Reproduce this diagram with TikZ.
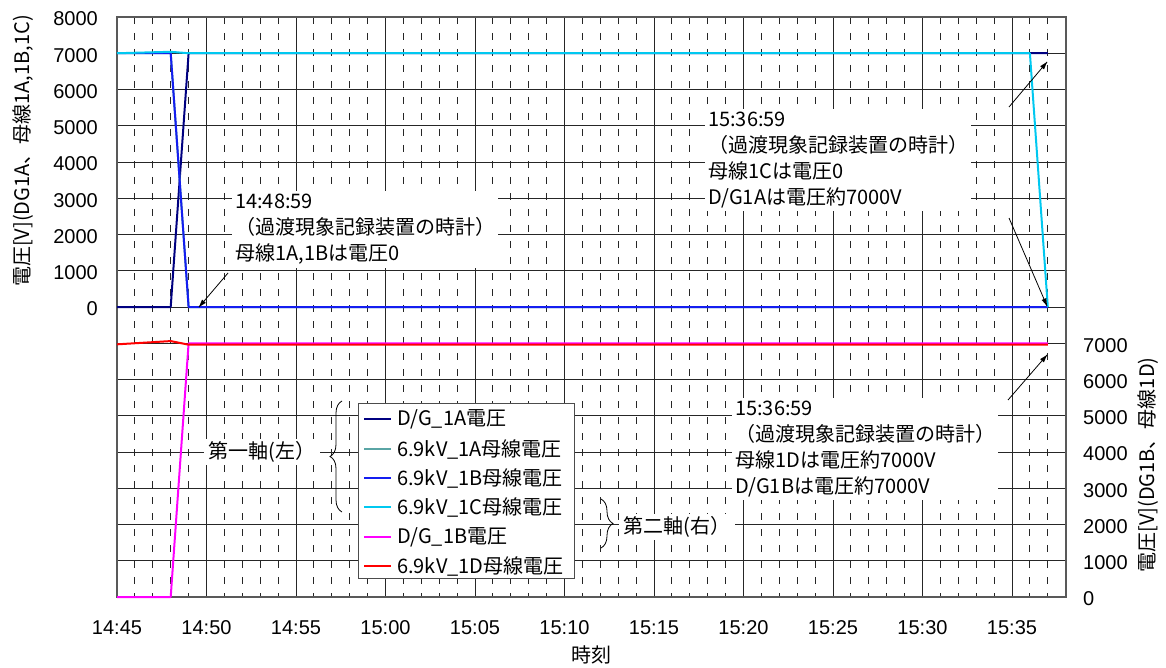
\documentclass[tikz,border=0pt]{standalone}
\usepackage{fontspec}
\setmainfont{Liberation Sans}
\newfontfamily\jp{Noto Sans CJK JP}
\usetikzlibrary{calc,decorations.pathreplacing}

\definecolor{dgA}{RGB}{0,0,128}
\definecolor{busA}{RGB}{90,165,165}
\definecolor{busB}{RGB}{20,30,240}
\definecolor{busC}{RGB}{0,200,240}
\definecolor{dgB}{RGB}{255,0,255}
\definecolor{busD}{RGB}{255,0,0}

\begin{document}
\begin{tikzpicture}[x=1pt,y=1pt]
	\tikzstyle{every node}+=[inner sep=0pt]
	\tikzstyle{gridline}=[black!85, line width=0.9pt]
	\tikzstyle{minorline}=[black!85, line width=0.9pt, dash pattern=on 7pt off 9pt]
	\tikzstyle{trace}=[line width=2pt, line join=round]
	\tikzstyle{pointer}=[black, line width=0.8pt]
	\tikzstyle{ticklabel}=[font=\fontsize{20}{24}\selectfont]
	\tikzstyle{jptext}=[font=\jp\fontsize{20}{26}\selectfont]
	\tikzstyle{notebox}=[jptext, fill=white, inner sep=3pt, align=left]
	\useasboundingbox (0,0) rectangle (1166,-668);

	% grid
	\foreach \k in {1,...,15}
		\draw [gridline] (117,{-17-36.25*\k}) -- (1066,{-17-36.25*\k});
	\foreach \t in {1,...,52} {
		\pgfmathtruncatemacro\r{mod(\t,5)}
		\ifnum\r=0
			\draw [gridline] ({117+17.9*\t},-17) -- ({117+17.9*\t},-597);
		\else
			\draw [minorline] ({117+17.9*\t},-17) -- ({117+17.9*\t},-597);
		\fi
	}
	\draw [gray!70!black, line width=1.6pt] (117,-17) rectangle (1066,-597);

	% first axis (left)
	\begin{scope}[shift={(117pt,-307pt)}, x=17.9pt, y=36.25pt]
		\draw [trace, dgA] (0,0) -- (3,0) -- (4,7) -- (52,7);
		\draw [trace, busA] (0,7) -- (3,7) -- (4,0) -- (52,0);
		\draw [trace, busB] (0,7) -- (3,7) -- (4,0) -- (52,0);
		\draw [trace, busC] (0,7) -- (3,7.04) -- (4,7) -- (51,7) -- (52,0);
	\end{scope}
	% second axis (right)
	\begin{scope}[shift={(117pt,-597pt)}, x=17.9pt, y=36.25pt]
		\draw [trace, dgB] (0,0) -- (3,0) -- (4,7) -- (52,7);
		\draw [trace, busD] (0,6.97) -- (3,7.06) -- (4,6.96) -- (52,6.96);
	\end{scope}

	% axis labels
	\foreach \v [count=\i from 0] in {0,1000,...,8000}
		\node [ticklabel, anchor=east] (yl\i) at (98,{-309+36.25*\i}) {\v};
	\foreach \v [count=\i from 0] in {0,1000,...,7000}
		\node [ticklabel, anchor=west] (yr\i) at (1083,{-599+36.25*\i}) {\v};
	\foreach \lab [count=\i from 0] in {14:45,14:50,14:55,15:00,15:05,15:10,15:15,15:20,15:25,15:30,15:35}
		\node [ticklabel] (xl\i) at ({117+89.5*\i},-628) {\lab};
	\node [jptext] (xtitle) at (591,-655) {時刻};
	\node [jptext, rotate=90] (ytitle) at (23,-151) {電圧[V](DG1A、母線1A,1B,1C)};
	\node [jptext, rotate=90] (ytitle2) at (1148,-465) {電圧[V](DG1B、母線1D)};

	% notes
	\node [notebox, anchor=north west] (n1) at (232,-191) {14:48:59\\（過渡現象記録装置の時計）\\母線1A,1Bは電圧0};
	\node [notebox, anchor=north west] (n2) at (705,-109) {15:36:59\\（過渡現象記録装置の時計）\\母線1Cは電圧0\\D/G1Aは電圧約7000V};
	\node [notebox, anchor=north west] (n3) at (732,-398) {15:36:59\\（過渡現象記録装置の時計）\\母線1Dは電圧約7000V\\D/G1Bは電圧約7000V};

	\coordinate (q1) at (228,-273);
	\coordinate (p1) at (199,-307);
	\draw [pointer] (q1) -- (p1);
	\fill [black] (p1) -- ($(p1)!8pt!18:(q1)$) -- ($(p1)!8pt!-18:(q1)$) -- cycle;
	\coordinate (q2) at (1009,-107);
	\coordinate (p2) at (1047,-62);
	\draw [pointer] (q2) -- (p2);
	\fill [black] (p2) -- ($(p2)!8pt!18:(q2)$) -- ($(p2)!8pt!-18:(q2)$) -- cycle;
	\coordinate (q3) at (1009,-218);
	\coordinate (p3) at (1047,-306);
	\draw [pointer] (q3) -- (p3);
	\fill [black] (p3) -- ($(p3)!8pt!18:(q3)$) -- ($(p3)!8pt!-18:(q3)$) -- cycle;
	\coordinate (q4) at (1008,-400);
	\coordinate (p4) at (1047,-355);
	\draw [pointer] (q4) -- (p4);
	\fill [black] (p4) -- ($(p4)!8pt!18:(q4)$) -- ($(p4)!8pt!-18:(q4)$) -- cycle;

	% legend
	\node [draw=black!70, line width=0.9pt, fill=white, minimum width=216pt, minimum height=175pt, anchor=north west] (legend) at (358,-403) {};
	\draw [trace, dgA] (364,-419) -- (391,-419);
	\node [jptext, anchor=west] (l1) at (397,-419) {D/G\_1A電圧};
	\draw [trace, busA] (364,-449) -- (391,-449);
	\node [jptext, anchor=west] (l2) at (397,-449) {6.9kV\_1A母線電圧};
	\draw [trace, busB] (364,-478) -- (391,-478);
	\node [jptext, anchor=west] (l3) at (397,-478) {6.9kV\_1B母線電圧};
	\draw [trace, busC] (364,-507) -- (391,-507);
	\node [jptext, anchor=west] (l4) at (397,-507) {6.9kV\_1C母線電圧};
	\draw [trace, dgB] (364,-537) -- (391,-537);
	\node [jptext, anchor=west] (l5) at (397,-537) {D/G\_1B電圧};
	\draw [trace, busD] (364,-566) -- (391,-566);
	\node [jptext, anchor=west] (l6) at (397,-566) {6.9kV\_1D母線電圧};

	% axis braces
	\draw [decorate, decoration={brace, amplitude=12pt}, line width=0.8pt] (342,-512) -- (342,-401);
	\node [jptext, fill=white, inner xsep=5pt, inner ysep=2pt] (ax1) at (262,-452) {第一軸(左）};
	\draw [decorate, decoration={brace, amplitude=12pt}, line width=0.8pt] (601,-499) -- (601,-548);
	\node [jptext, fill=white, inner xsep=5pt, inner ysep=2pt] (ax2) at (677,-527) {第二軸(右）};
\end{tikzpicture}
\end{document}
